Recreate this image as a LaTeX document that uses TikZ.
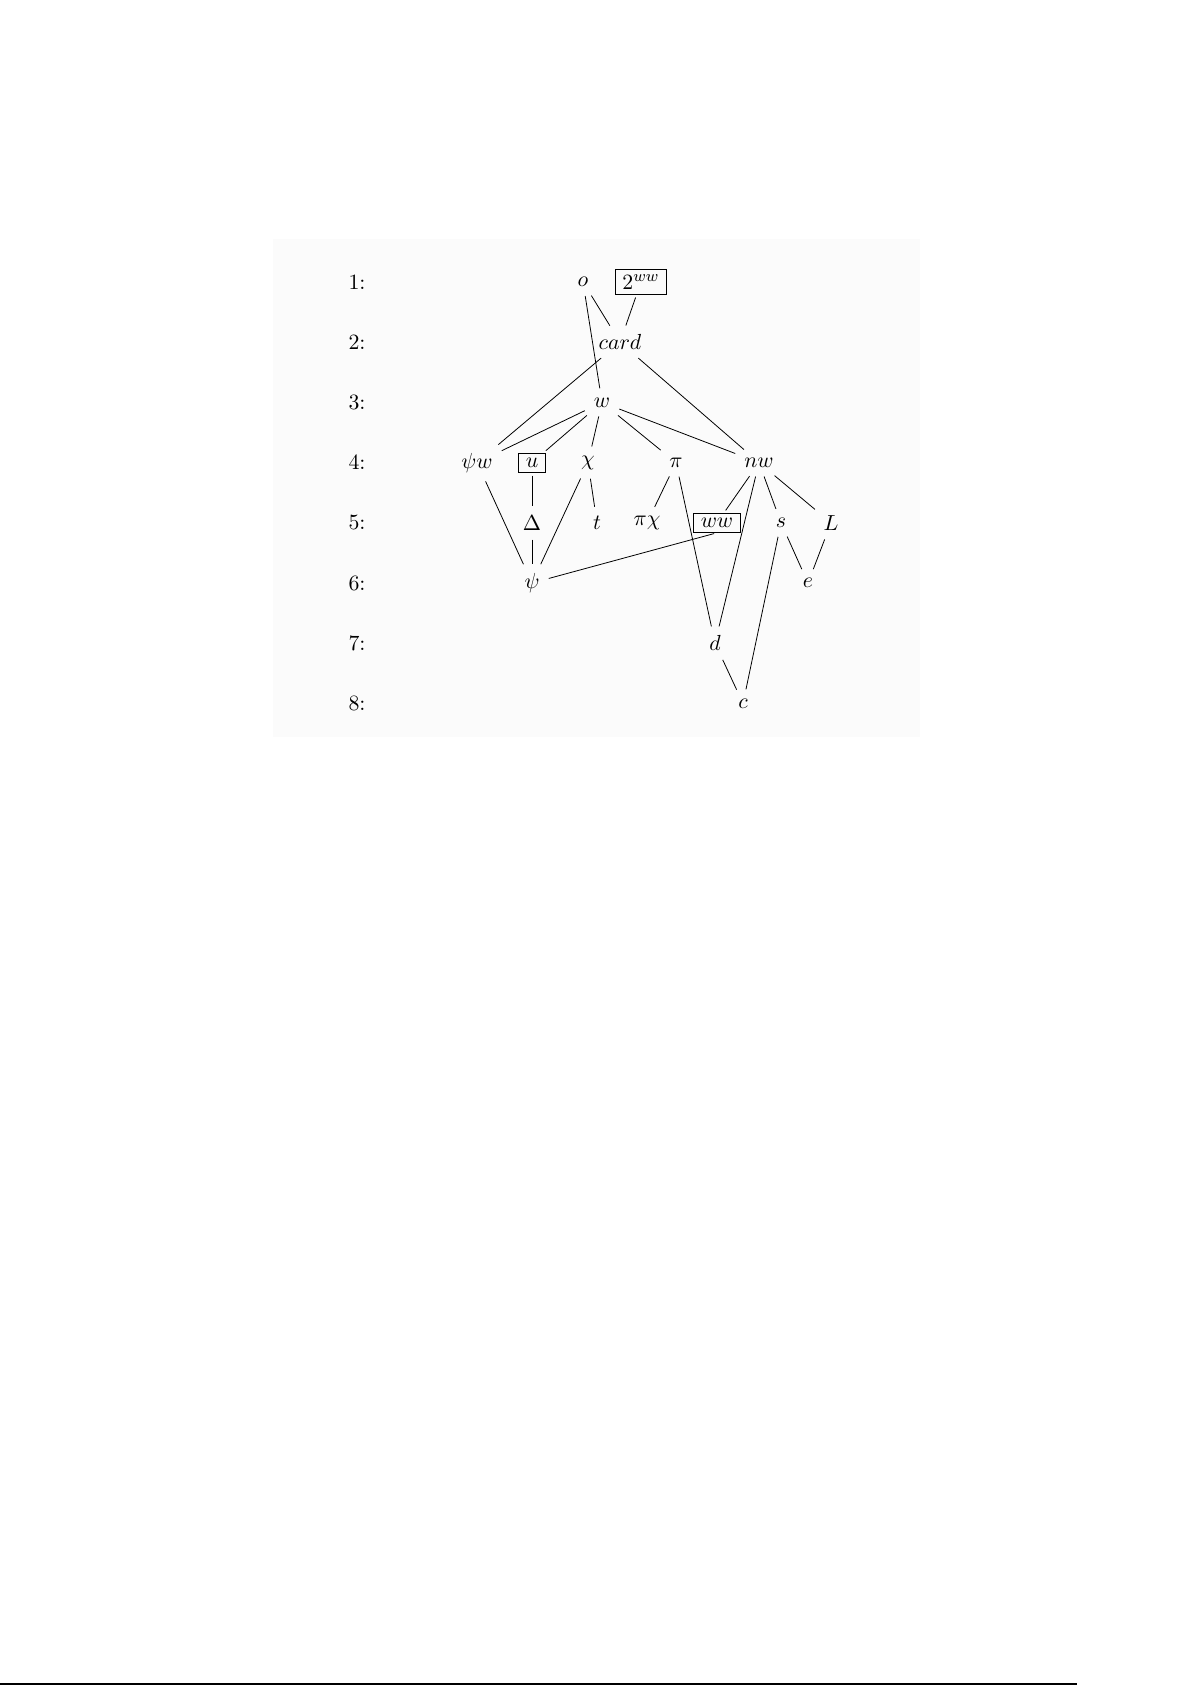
\documentclass[11pt,tikz,border=0pt]{standalone}
\usepackage{tikz}
\usepackage{amssymb}
\tikzstyle{level}=[inner sep=3pt]
\tikzstyle{term}=[inner sep=3pt]
\tikzstyle{boxed}=[term,draw,line width=0.5pt,inner xsep=3.6pt,inner ysep=2.4pt]
\usetikzlibrary{positioning}

\begin{document}
\begin{tikzpicture}[node distance=30.1bp, on grid, line width=0.4pt,
                    every edge/.style={draw,shorten >=1.5pt,shorten <=1.5pt}]
            \useasboundingbox (0,0) rectangle (596bp,-842.5bp);
            \fill[black!1.5] (136.5bp,-119.5bp) rectangle (460bp,-368.5bp);
            \draw[line width=1bp] (0,-841.8bp) -- (538.5bp,-841.8bp);

            % LEVEL NUMBERS

            \node[level] (l1) at (178.5bp,-141bp) {1:};
            \node[level, below=of l1] (l2) {2:};
            \node[level, below=of l2] (l3) {3:};
            \node[level, below=of l3] (l4) {4:};
            \node[level, below=of l4] (l5) {5:};
            \node[level, below=of l5] (l6) {6:};
            \node[level, below=of l6] (l7) {7:};
            \node[level, below=of l7] (l8) {8:};

            % TOP PART

            \node[term,  base right=113bp of l1]   (o)    {$o$};
            \node[boxed, base right=142bp of l1]   (pow)  {$2^{ww}$};
            \node[term,  base right=131.5bp of l2] (card) {$card$};
            \node[term,  base right=122.5bp of l3] (w)    {$w$};

            \path (o) edge (card);
            \path (pow) edge (card);
            \path (o) edge (w);

            % MIDDLE PART

            \node[term,  base right=60bp of l4]    (psiw) {$\psi w$};
            \node[boxed, base right=87.5bp of l4]  (u)    {$u$};
            \node[term,  base right=115.5bp of l4] (chi)  {$\chi$};
            \node[term,  base right=159.5bp of l4] (pi)   {$\pi$};
            \node[term,  base right=201bp of l4]   (nw)   {$nw$};

            \path (card) edge (psiw);
            \path (card) edge (nw);
            \path (w) edge (psiw);
            \path (w) edge (u);
            \path (w) edge (chi);
            \path (w) edge (pi);
            \path (w) edge (nw);

            \node[term,  base right=87.5bp of l5]  (Delta) {$\Delta$};
            \node[term,  base right=120bp of l5]   (t)     {$t$};
            \node[term,  base right=145bp of l5]   (pichi) {$\pi\chi$};
            \node[boxed, base right=180bp of l5]   (ww)    {$ww$};
            \node[term,  base right=212bp of l5]   (s)     {$s$};
            \node[term,  base right=237bp of l5]   (L)     {$L$};

            \path (u) edge (Delta);
            \path (chi) edge (t);
            \path (pi) edge (pichi);
            \path (nw) edge (ww);
            \path (nw) edge (s);
            \path (nw) edge (L);

            % BOTTOM PART

            \node[term, base right=87.5bp of l6]  (psi) {$\psi$};
            \node[term, base right=225.5bp of l6] (e)   {$e$};
            \node[term, base right=179bp of l7]   (d)   {$d$};
            \node[term, base right=193bp of l8]   (c)   {$c$};

            \path (psiw) edge (psi);
            \path (Delta) edge (psi);
            \path (chi) edge (psi);
            \path (ww.south) edge (psi);
            \path (s) edge (e);
            \path (L) edge (e);
            \path (pi) edge (d);
            \path (nw) edge (d);
            \path (d) edge (c);
            \path (s) edge (c);

\end{tikzpicture}
\end{document}
